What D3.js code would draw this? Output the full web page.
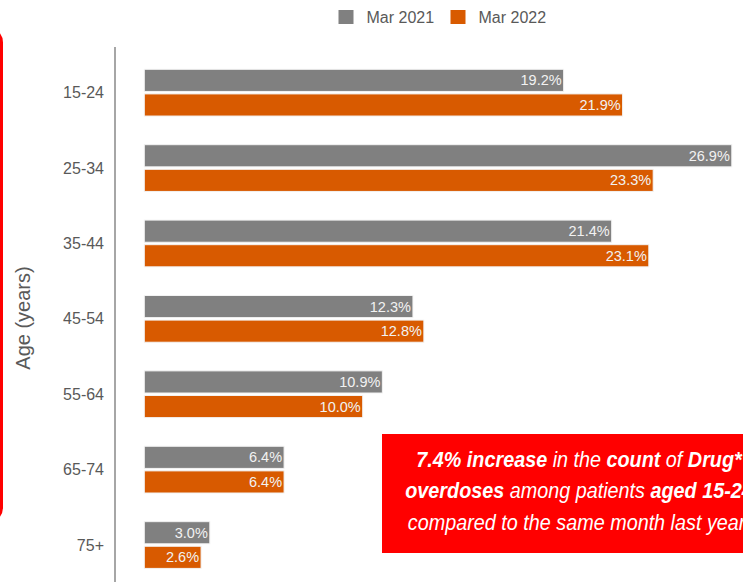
<!DOCTYPE html>
<html>
<head>
<meta charset="utf-8">
<script src="https://cdn.jsdelivr.net/npm/d3@7.9.0/dist/d3.min.js"></script>
<style>
  html, body { margin: 0; padding: 0; background: #fff; }
  svg { display: block; font-family: "Liberation Sans", Arial, sans-serif; }
</style>
</head>
<body>
<svg id="chart" width="743" height="582"></svg>
<script>
// data
const ageGroups = ['15-24', '25-34', '35-44', '45-54', '55-64', '65-74', '75+'];
const seriesNames = ['Mar 2021', 'Mar 2022'];
const mar2021 = [19.2, 26.9, 21.4, 12.3, 10.9, 6.4, 3.0];
const mar2022 = [21.9, 23.3, 23.1, 12.8, 10.0, 6.4, 2.6];
const seriesColors = ['#808080', '#d85a00'];

const rows = ageGroups.map((g, i) => ({ group: g, values: [mar2021[i], mar2022[i]] }));

const svg = d3.select('#chart');

// scales
const x = d3.scaleLinear().domain([0, 30]).range([144.3, 144.3 + 21.84 * 30]);
const y = d3.scaleBand().domain(ageGroups).range([69.3, 568.4]).paddingInner(0.38).paddingOuter(0);
const ySub = d3.scaleBand().domain(seriesNames).range([0, y.bandwidth()]).paddingInner(0.1);
const color = d3.scaleOrdinal().domain(seriesNames).range(seriesColors);

// red frame edge on the left
svg.append('rect')
  .attr('x', -200).attr('y', 28.5)
  .attr('width', 201.5).attr('height', 493)
  .attr('rx', 14)
  .attr('fill', 'none')
  .attr('stroke', '#ff0000')
  .attr('stroke-width', 3);

// y axis line
svg.append('line')
  .attr('x1', 115).attr('x2', 115)
  .attr('y1', 47).attr('y2', 582)
  .attr('stroke', '#a6a6a6')
  .attr('stroke-width', 2);

// category labels
svg.append('g').selectAll('text')
  .data(ageGroups)
  .join('text')
  .attr('x', 104)
  .attr('y', d => y(d) + y.bandwidth() / 2)
  .attr('dy', '0.35em')
  .attr('text-anchor', 'end')
  .attr('font-size', 16)
  .attr('fill', '#595959')
  .text(d => d);

// axis title
svg.append('text')
  .attr('transform', 'translate(30,318) rotate(-90)')
  .attr('text-anchor', 'middle')
  .attr('font-size', 20)
  .attr('fill', '#595959')
  .text('Age (years)');

// bars
const groups = svg.append('g').selectAll('g')
  .data(rows)
  .join('g')
  .attr('transform', d => `translate(0,${y(d.group)})`);

groups.selectAll('rect')
  .data(d => d.values.map((v, i) => ({ name: seriesNames[i], value: v })))
  .join('rect')
  .attr('x', x(0))
  .attr('y', d => ySub(d.name))
  .attr('width', d => x(d.value) - x(0))
  .attr('height', ySub.bandwidth())
  .attr('fill', d => color(d.name))
  .attr('stroke', '#f3f3f3')
  .attr('stroke-width', 1);

groups.selectAll('text')
  .data(d => d.values.map((v, i) => ({ name: seriesNames[i], value: v })))
  .join('text')
  .attr('x', d => x(d.value) - 2)
  .attr('y', d => ySub(d.name) + ySub.bandwidth() / 2)
  .attr('dy', '0.35em')
  .attr('text-anchor', 'end')
  .attr('font-size', 14.5)
  .attr('fill', '#f2f2f2')
  .text(d => d.value.toFixed(1) + '%');

// legend
const legend = svg.append('g');
const legendX = [338.5, 450.5];
seriesNames.forEach((name, i) => {
  legend.append('rect')
    .attr('x', legendX[i]).attr('y', 10)
    .attr('width', 15).attr('height', 14)
    .attr('fill', color(name));
  legend.append('text')
    .attr('x', legendX[i] + 28).attr('y', 17)
    .attr('dy', '0.35em')
    .attr('font-size', 16)
    .attr('fill', '#595959')
    .text(name);
});

// callout box
svg.append('rect')
  .attr('x', 382).attr('y', 434)
  .attr('width', 400).attr('height', 119)
  .attr('fill', '#ff0000');

const calloutLines = [
  [['7.4% increase', true], [' in the ', false], ['count', true], [' of ', false], ['Drug*', true]],
  [['overdoses', true], [' among patients ', false], ['aged 15-24', true]],
  [['compared to the same month last year.', false]]
];
const callout = svg.append('g').attr('transform', 'translate(579,0) scale(0.9,1)');
calloutLines.forEach((parts, i) => {
  const t = callout.append('text')
    .attr('x', 0).attr('y', 467 + i * 31.5)
    .attr('text-anchor', 'middle')
    .attr('font-size', 22)
    .attr('font-style', 'italic')
    .attr('fill', '#ffffff');
  parts.forEach(([s, bold]) => {
    t.append('tspan')
      .attr('font-weight', bold ? 'bold' : 'normal')
      .text(s);
  });
});
</script>
</body>
</html>
